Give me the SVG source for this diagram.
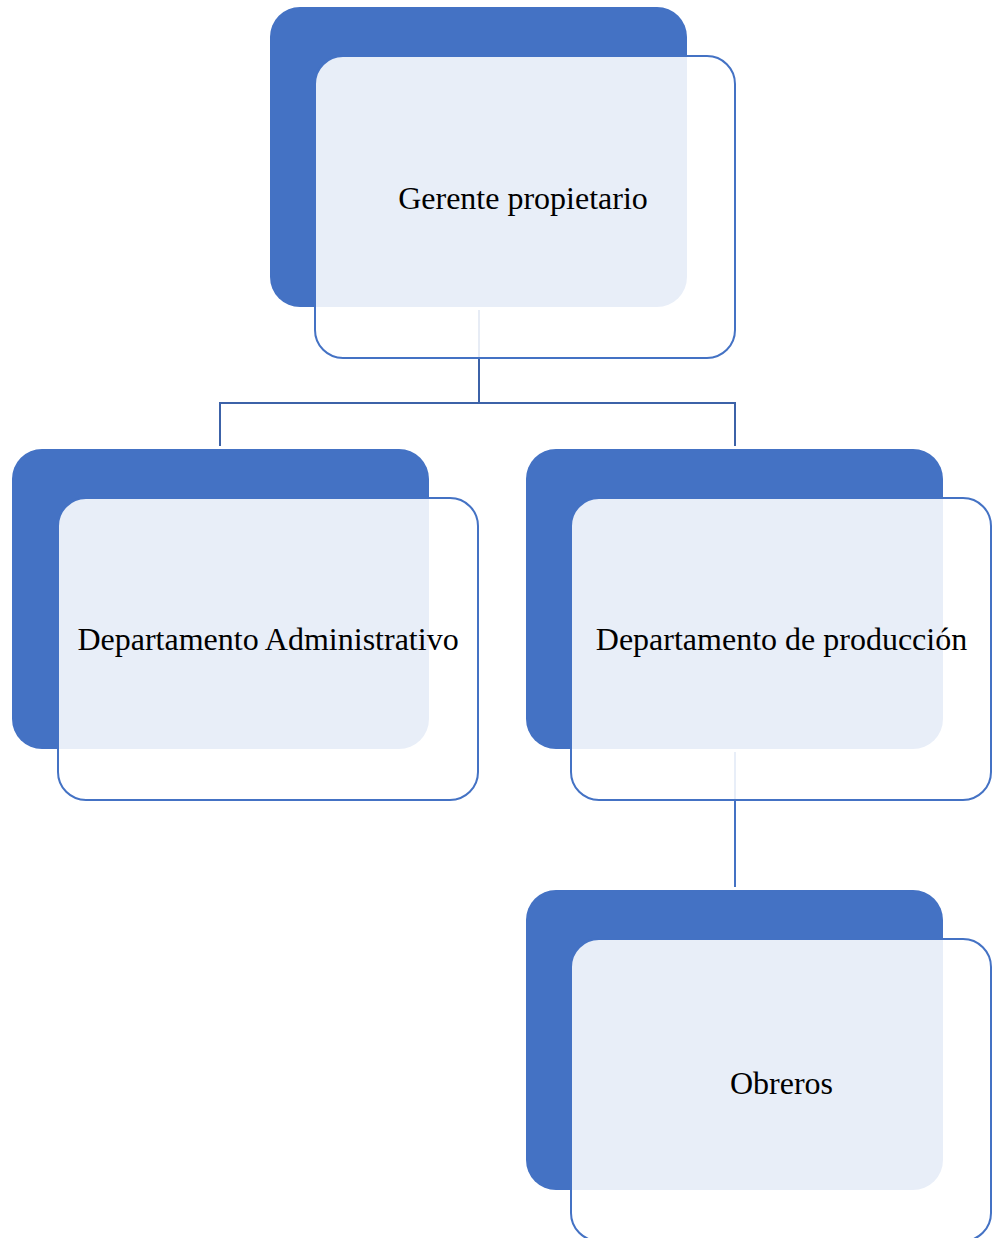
<svg xmlns="http://www.w3.org/2000/svg" width="992" height="1238" viewBox="0 0 992 1238">
<style>
.back{fill:#4472C4;}
.front{fill:#FFFFFF;fill-opacity:0.88;stroke:#4472C4;stroke-width:2;}
.lbl{font-family:"Liberation Serif","Times New Roman",serif;font-size:32px;fill:#000000;text-anchor:middle;}
.conn{fill:none;stroke:#3C62A8;stroke-width:2;}
.conn2{fill:none;stroke:#4472C4;stroke-width:2;}
</style>
<rect width="992" height="1238" fill="#FFFFFF"/>
<g id="connectors">
<path class="conn" d="M479,310 V403 M220,446 V403 H735 V446"/>
<path class="conn2" d="M735,752 V887"/>
</g>
<g id="node-gerente">
<rect class="back" x="270" y="7" width="417" height="300" rx="30"/>
<rect class="front" x="315" y="56" width="420" height="302" rx="28"/>
<text class="lbl" x="523" y="209">Gerente propietario</text>
</g>
<g id="node-admin">
<rect class="back" x="12" y="449" width="417" height="300" rx="30"/>
<rect class="front" x="58" y="498" width="420" height="302" rx="28"/>
<text class="lbl" x="268" y="650">Departamento Administrativo</text>
</g>
<g id="node-produccion">
<rect class="back" x="526" y="449" width="417" height="300" rx="30"/>
<rect class="front" x="571" y="498" width="420" height="302" rx="28"/>
<text class="lbl" x="781.5" y="650">Departamento de producción</text>
</g>
<g id="node-obreros">
<rect class="back" x="526" y="890" width="417" height="300" rx="30"/>
<rect class="front" x="571" y="939" width="420" height="302" rx="28"/>
<text class="lbl" x="781.5" y="1094">Obreros</text>
</g>
</svg>
